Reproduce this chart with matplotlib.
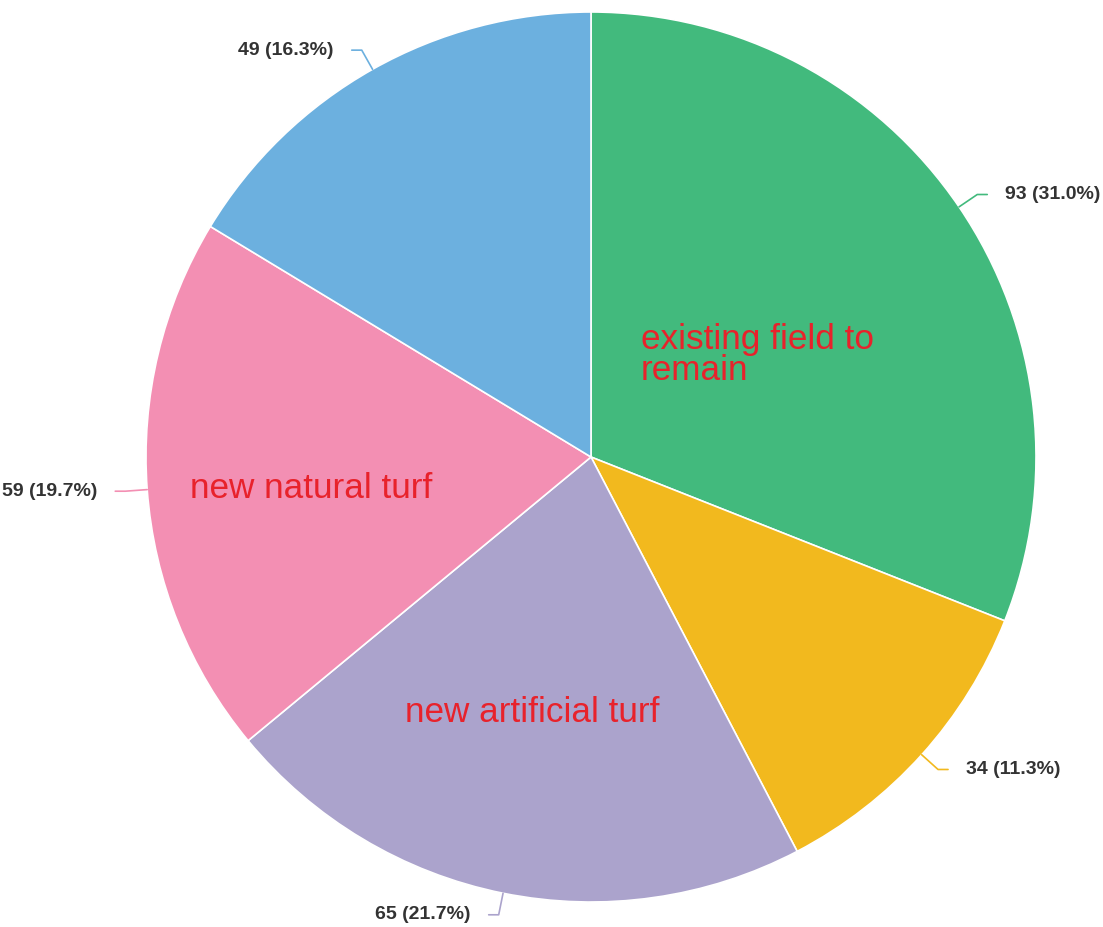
import numpy as np
import matplotlib
matplotlib.use("Agg")
import matplotlib.pyplot as plt

# Data
values = [93, 34, 65, 59, 49]
colors = ["#42BA7D", "#F2B91E", "#ABA3CC", "#F38FB3", "#6CB0DF"]
inner_labels = ["existing field to\nremain", "", "new artificial turf", "new natural turf", ""]

W, H = 1103, 927
cx, cy, R = 591, H - 457, 445

fig = plt.figure(figsize=(W / 100, H / 100), dpi=100)
ax = fig.add_axes([0, 0, 1, 1])

wedges, _ = ax.pie(values, colors=colors, startangle=90, counterclock=False,
                   center=(cx, cy), radius=R, frame=True,
                   wedgeprops=dict(edgecolor="white", linewidth=1.2))
ax.set_xlim(0, W)
ax.set_ylim(0, H)
ax.set_aspect("equal")
ax.axis("off")

total = sum(values)
for w, v in zip(wedges, values):
    mid = np.deg2rad((w.theta1 + w.theta2) / 2)
    dx, dy = np.cos(mid), np.sin(mid)
    x0, y0 = cx + R * dx, cy + R * dy
    x1, y1 = cx + (R + 22) * dx, cy + (R + 22) * dy
    side = 1 if dx > 0 else -1
    x2 = x1 + 10 * side
    ax.plot([x0, x1, x2], [y0, y1, y1], color=w.get_facecolor(), lw=1.2,
            solid_capstyle="round", solid_joinstyle="round")
    ax.text(x2 + 18 * side, y1, f"{v} ({v / total * 100:.1f}%)",
            ha="left" if side > 0 else "right", va="center",
            fontsize=14, fontweight="bold", color="#333333",
            family="Liberation Sans")

# in-slice labels
red = "#E8222B"
ax.text(641, H - 355, inner_labels[0], fontsize=25.3, color=red, va="center",
        ha="left", linespacing=0.95, family="Liberation Sans")
ax.text(405, H - 713, inner_labels[2], fontsize=25.3, color=red, va="center",
        ha="left", family="Liberation Sans")
ax.text(190, H - 488, inner_labels[3], fontsize=25.3, color=red, va="center",
        ha="left", family="Liberation Sans")

fig.savefig("out.png", dpi=100, facecolor="white")
